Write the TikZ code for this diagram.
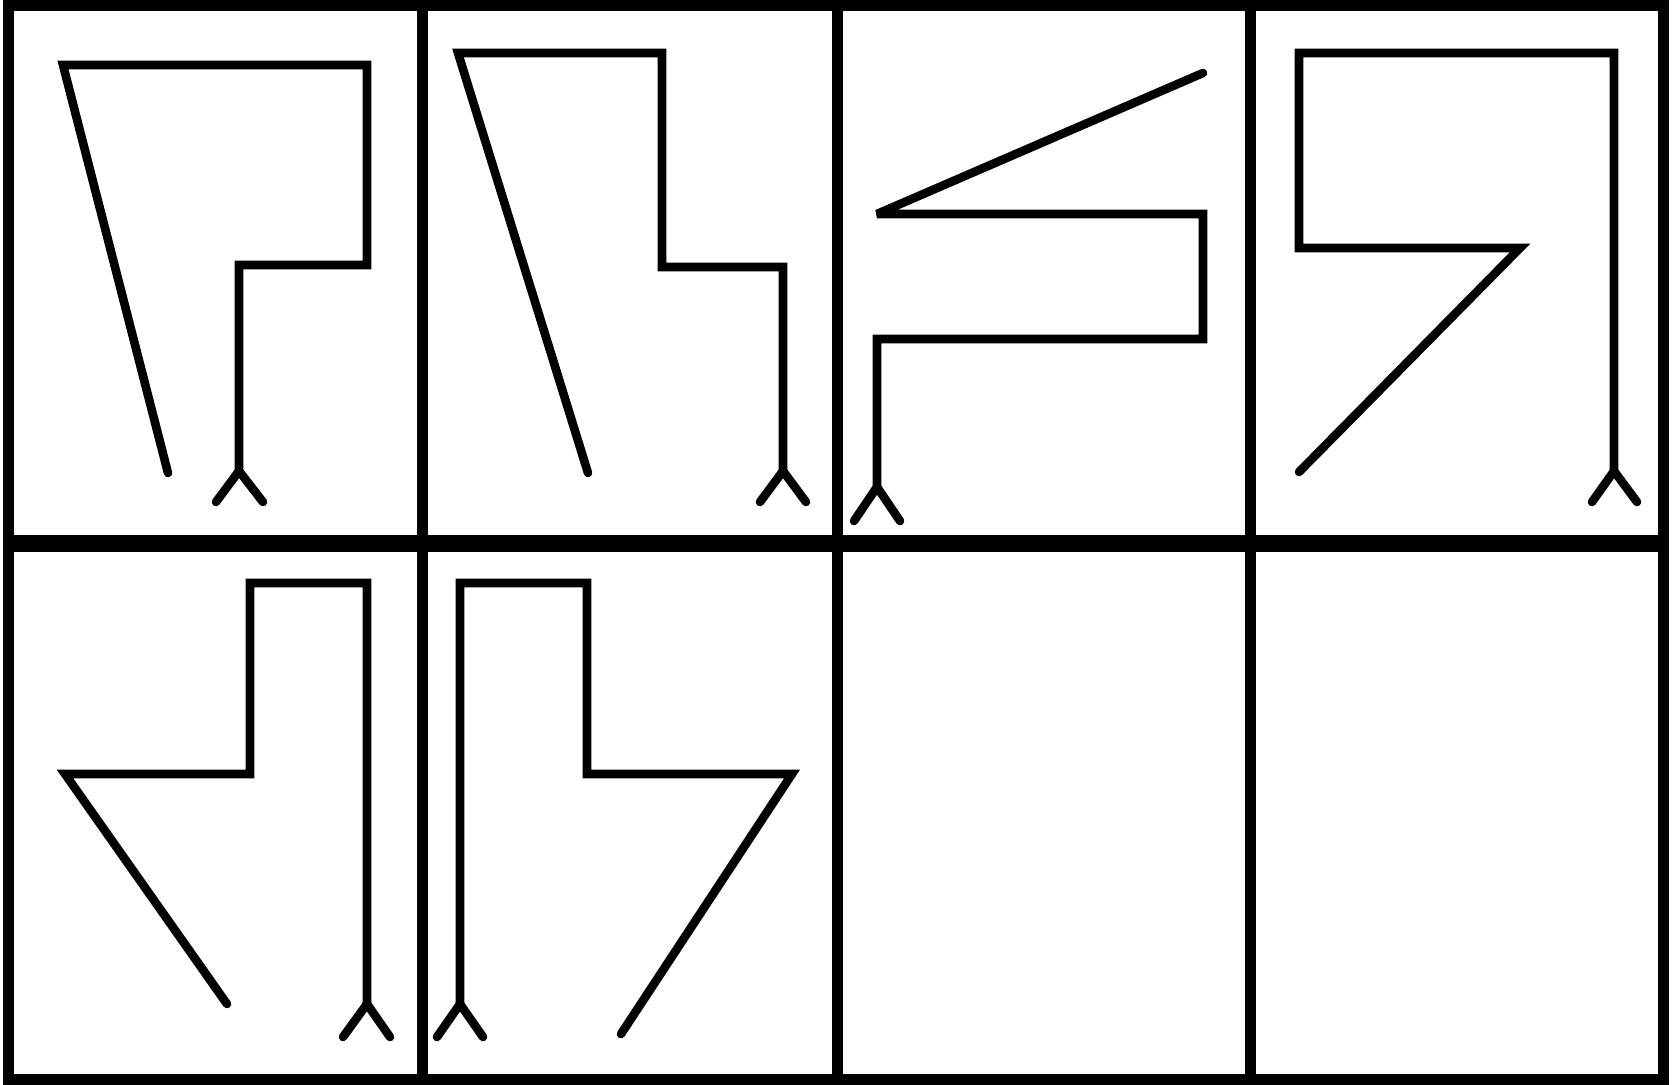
\documentclass[tikz,border=0pt]{standalone}
\begin{document}
\begin{tikzpicture}[x=0.5pt,y=-0.5pt,
  frameline/.style={line width=5.5pt, line cap=rect},
  midline/.style={line width=8.5pt, line cap=butt},
  figline/.style={line width=4.3pt, line cap=round, line join=miter, miter limit=3}]
\useasboundingbox (0,0) rectangle (1675,1085);
\fill[white] (0,0) rectangle (1675,1085);
% frame
\draw[frameline] (8.5,5.5) rectangle (1663.5,1079.5);
\draw[frameline] (422.5,5.5) -- (422.5,1079.5);
\draw[frameline] (837,5.5) -- (837,1079.5);
\draw[frameline] (1250.5,5.5) -- (1250.5,1079.5);
\draw[midline] (8.5,543.5) -- (1663.5,543.5);
% panel 1
\coordinate (p1a) at (239,471);
\draw[figline] (216,502) -- (p1a) -- (263,502);
\draw[figline] (p1a) -- (239,265) -- (367,265) -- (367,65) -- (63,65) -- (168,473);
% panel 2
\coordinate (p2a) at (783,471);
\draw[figline] (760,502) -- (p2a) -- (806,502);
\draw[figline] (p2a) -- (783,267) -- (662,267) -- (662,53) -- (458,53) -- (588,473);
% panel 3
\coordinate (p3a) at (877,487);
\draw[figline] (854,521) -- (p3a) -- (900,521);
\draw[figline] (p3a) -- (877,339) -- (1203,339) -- (1203,214) -- (877,214) -- (1203,73);
% panel 4
\coordinate (p4a) at (1614,471);
\draw[figline] (1592,502) -- (p4a) -- (1637,502);
\draw[figline] (p4a) -- (1614,53) -- (1299,53) -- (1299,248) -- (1520,248) -- (1299,472);
% panel 5
\coordinate (p5a) at (367,1004);
\draw[figline] (343,1037) -- (p5a) -- (390,1037);
\draw[figline] (p5a) -- (367,583) -- (250,583) -- (250,774) -- (65,774) -- (227,1004);
% panel 6
\coordinate (p6a) at (460,1004);
\draw[figline] (437,1037) -- (p6a) -- (483,1037);
\draw[figline] (p6a) -- (460,583) -- (587,583) -- (587,774) -- (792,774) -- (621,1034);
\end{tikzpicture}
\end{document}
